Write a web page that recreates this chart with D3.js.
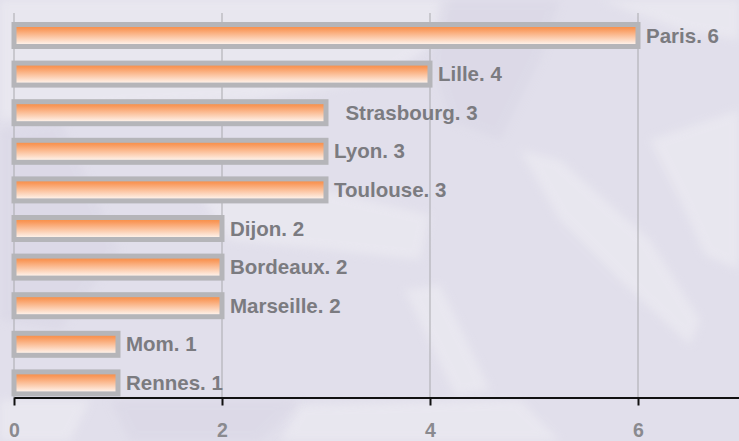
<!DOCTYPE html>
<html>
<head>
<meta charset="utf-8">
<script src="https://cdn.jsdelivr.net/npm/d3@7"></script>
<style>
  html, body { margin: 0; padding: 0; background: #e2e0ec; }
  svg { display: block; }
</style>
</head>
<body>
<svg id="chart" width="739" height="441"></svg>
<script>
// ---- data ----
const categories = ["Paris", "Lille", "Strasbourg", "Lyon", "Toulouse", "Dijon", "Bordeaux", "Marseille", "Mom", "Rennes"];
const values = [6, 4, 3, 3, 3, 2, 2, 2, 1, 1];
const labels = ["Paris. 6", "Lille. 4", "  Strasbourg. 3", "Lyon. 3", "Toulouse. 3", "Dijon. 2", "Bordeaux. 2", "Marseille. 2", "Mom. 1", "Rennes. 1"];
const tickValues = [0, 2, 4, 6];
const xDomain = [0, 7];

// ---- setup ----
const W = 739, H = 441;
const svg = d3.select("#chart");
const defs = svg.append("defs");

const grad = defs.append("linearGradient")
  .attr("id", "barGrad").attr("x1", 0).attr("y1", 0).attr("x2", 0).attr("y2", 1);
grad.append("stop").attr("offset", "0%").attr("stop-color", "#f7893a");
grad.append("stop").attr("offset", "20%").attr("stop-color", "#f9985a");
grad.append("stop").attr("offset", "100%").attr("stop-color", "#ffffff");

const blur = defs.append("filter").attr("id", "soft").attr("x", "-20%").attr("y", "-20%").attr("width", "140%").attr("height", "140%");
blur.append("feGaussianBlur").attr("stdDeviation", 4);

// ---- decorative background ----
const bg = svg.append("g");
bg.append("rect").attr("width", W).attr("height", H).attr("fill", "#e1dfeb");
const lightShapes = [
  "M0,0 L450,0 L440,40 L380,80 L250,100 L120,105 L0,120 Z",
  "M520,150 L560,160 L650,240 L700,320 L690,345 L620,280 L560,220 Z",
  "M650,140 L739,110 L739,270 L705,255 L680,200 Z",
  "M405,290 L440,285 L490,390 L455,395 Z",
  "M200,195 L300,185 L430,215 L420,260 L330,250 L230,240 Z",
  "M600,0 L739,0 L739,40 L680,30 Z",
  "M0,400 L90,400 L70,441 L0,441 Z",
  "M300,405 L520,400 L560,441 L280,441 Z"
];
bg.selectAll("path.light").data(lightShapes).join("path")
  .attr("class", "light").attr("d", d => d)
  .attr("fill", "#eeedf3").attr("opacity", 0.6).attr("filter", "url(#soft)");
const darkShapes = [
  "M440,0 L560,0 L540,60 L500,140 L450,120 L430,60 Z",
  "M0,130 L60,120 L120,250 L60,330 L0,320 Z",
  "M110,400 L300,400 L260,441 L130,441 Z"
];
bg.selectAll("path.dark").data(darkShapes).join("path")
  .attr("class", "dark").attr("d", d => d)
  .attr("fill", "#d8d5e4").attr("opacity", 0.5).attr("filter", "url(#soft)");

// ---- scales ----
const x = d3.scaleLinear().domain(xDomain).range([14, 742]);
const y = d3.scaleBand().domain(categories).range([16.2, 402.2]).paddingInner(0.43).paddingOuter(0.215);
const axisY = 397.5;

// gridlines
svg.append("g").selectAll("line").data(tickValues).join("line")
  .attr("x1", d => x(d)).attr("x2", d => x(d))
  .attr("y1", 13).attr("y2", axisY)
  .attr("stroke", "#a9a9ad").attr("stroke-width", 1);

// bars
svg.append("g").selectAll("rect").data(categories).join("rect")
  .attr("x", x(0))
  .attr("y", d => y(d))
  .attr("width", (d, i) => x(values[i]) - x(0))
  .attr("height", y.bandwidth())
  .attr("fill", "url(#barGrad)")
  .attr("stroke", "#b5b5b9")
  .attr("stroke-width", 5);

// value labels
svg.append("g").selectAll("text").data(categories).join("text")
  .attr("x", (d, i) => x(values[i]) + 8)
  .attr("y", d => y(d) + y.bandwidth() / 2)
  .attr("dy", "0.35em")
  .style("white-space", "pre")
  .attr("xml:space", "preserve")
  .attr("font-family", "'Liberation Sans', Arial, sans-serif")
  .attr("font-weight", "bold")
  .attr("font-size", "20.5px")
  .attr("fill", "#7b7b80")
  .text((d, i) => labels[i]);

// axis
const axis = d3.axisBottom(x).tickValues(tickValues).tickSize(8).tickSizeOuter(0).tickFormat(d3.format("d"));
const ax = svg.append("g").attr("transform", `translate(0,${axisY})`).call(axis);
ax.select(".domain").attr("stroke", "#111").attr("stroke-width", 2);
ax.selectAll(".tick line").attr("stroke", "#111").attr("stroke-width", 2);
ax.selectAll(".tick text")
  .attr("y", 39).attr("dy", "0")
  .attr("font-family", "'Liberation Sans', Arial, sans-serif")
  .attr("font-weight", "bold")
  .attr("font-size", "19.5px")
  .attr("fill", "#8a8a8f");
</script>
</body>
</html>
